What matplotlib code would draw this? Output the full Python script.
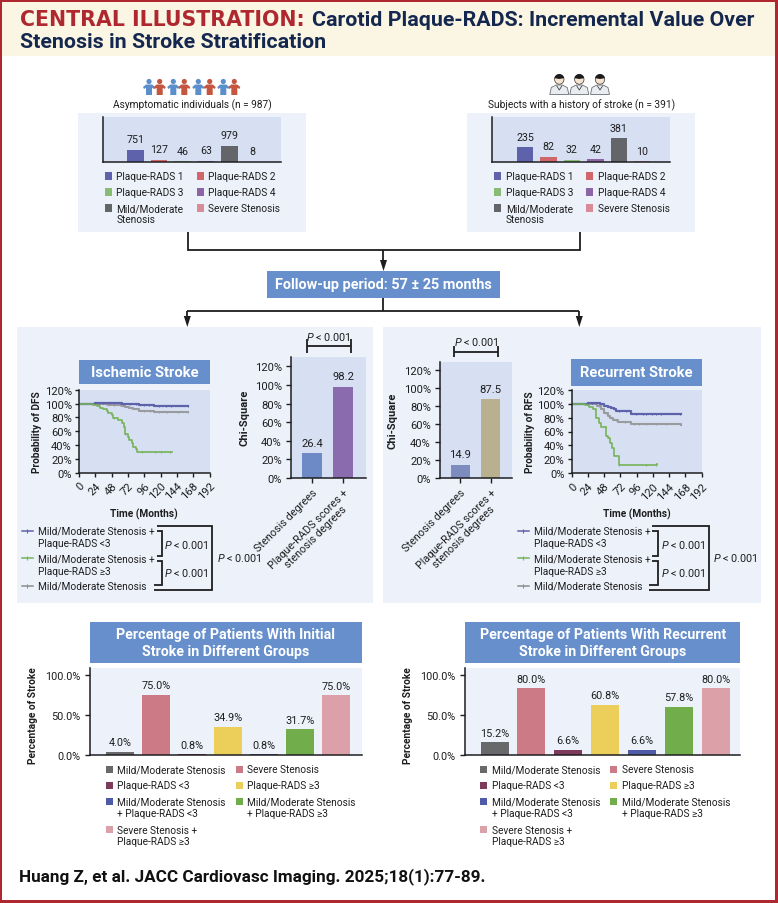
import numpy as np
import matplotlib
matplotlib.use("Agg")
import matplotlib.pyplot as plt
from matplotlib.patches import Rectangle, Circle, Polygon, Wedge

plt.rcParams['font.family'] = ['Roboto', 'DejaVu Sans']
plt.rcParams['mathtext.fontset'] = 'custom'
plt.rcParams['mathtext.it'] = 'Roboto:italic'
plt.rcParams['mathtext.rm'] = 'Roboto'

W, H = 778, 904

# --- data ---
cohort_labels = ['Plaque-RADS 1', 'Plaque-RADS 2', 'Plaque-RADS 3', 'Plaque-RADS 4',
                 'Mild/Moderate\nStenosis', 'Severe Stenosis']
cohort_colors = ['#5D62AB', '#D0666A', '#86BC74', '#8E64A8', '#646568', '#D98C98']
asymptomatic = [751, 127, 46, 63, 979, 8]
history = [235, 82, 32, 42, 381, 10]

months_ticks = [0, 24, 48, 72, 96, 120, 144, 168, 192]
pct_ticks = [0, 20, 40, 60, 80, 100, 120]

dfs_blue_t = [0, 23, 63, 88, 111, 140, 161]
dfs_blue_s = [100, 101, 99.5, 98.5, 97, 96, 96.5]
dfs_gray_t = [0, 24, 43, 63, 68, 73, 80, 88, 110, 161]
dfs_gray_s = [100, 99.5, 98.5, 96.6, 95, 93, 91.5, 90, 88.5, 88.5]
dfs_green_t = [0, 21, 27, 31, 36, 41, 43, 48, 50, 57, 63, 66, 68, 72, 74, 78, 80, 84, 86, 137]
dfs_green_s = [100, 98, 96, 94, 92, 90, 87, 84, 79, 76, 72, 66, 56, 52, 47, 43, 37, 34, 30, 30.5]

rfs_blue_t = [0, 24, 42, 48, 54, 58, 62, 65, 88, 161]
rfs_blue_s = [100, 101, 100, 97, 95.5, 94, 92, 89, 85, 85]
rfs_gray_t = [0, 24, 31, 37, 43, 48, 53, 57, 61, 68, 88, 161]
rfs_gray_s = [100, 100, 99, 96, 92, 87, 82, 79, 76, 73, 71, 70]
rfs_green_t = [0, 19, 25, 31, 36, 40, 43, 51, 54, 57, 60, 62, 70, 126]
rfs_green_s = [100, 98, 95, 92, 80, 72, 66, 54, 50, 44, 36, 25, 12, 13]

dfs_blue_cens = [30, 36, 44, 52, 60, 75, 84, 95, 103, 118, 128, 135, 160]
dfs_gray_cens = [30, 40, 52, 60, 95, 105, 118, 130, 145, 160]
dfs_green_cens = [30, 52, 68, 92, 112, 120, 134]
rfs_blue_cens = [30, 36, 70, 80, 95, 105, 110, 118, 125, 132, 160]
rfs_gray_cens = [40, 50, 66, 78, 92, 100, 110, 125, 140, 160]
rfs_green_cens = [50, 70, 110, 124]

chi_labels = ['Stenosis degrees', 'Plaque-RADS scores +\nstenosis degrees']
chi_ischemic = [26.4, 98.2]
chi_recurrent = [14.9, 87.5]
chi_ischemic_colors = ['#6D8AC6', '#8A6BAD']
chi_recurrent_colors = ['#7E8BBF', '#B9B08F']

group_labels = ['Mild/Moderate Stenosis', 'Severe Stenosis', 'Plaque-RADS <3', 'Plaque-RADS ≥3',
                'Mild/Moderate Stenosis\n+ Plaque-RADS <3', 'Mild/Moderate Stenosis\n+ Plaque-RADS ≥3',
                'Severe Stenosis +\nPlaque-RADS ≥3']
group_colors = ['#68696B', '#CC7A85', '#7D3A5B', '#ECCE5A', '#4F5BA6', '#71AD4A', '#DCA0A8']
initial_heights = [4.0, 75.5, 0.8, 34.9, 0.8, 31.7, 75.0]
initial_text = ['4.0%', '75.0%', '0.8%', '34.9%', '0.8%', '31.7%', '75.0%']
recurrent_heights = [15.4, 83.5, 6.0, 63.0, 6.0, 60.2, 83.6]
recurrent_text = ['15.2%', '80.0%', '6.6%', '60.8%', '6.6%', '57.8%', '80.0%']

RED = '#B0282F'
NAVY = '#14284F'
BLUE_BOX = '#668FCC'
PANEL = '#EDF2FA'
CHART_BG = '#D6E0F2'
INK = '#1E1E20'
FS = 7.3

fig = plt.figure(figsize=(W / 100, H / 100), dpi=100, facecolor='white')
bg = fig.add_axes([0, 0, 1, 1])
bg.set_xlim(0, W)
bg.set_ylim(H, 0)
bg.axis('off')


def add_ax(x0, y0, x1, y1, color=CHART_BG):
    a = fig.add_axes([x0 / W, 1 - y1 / H, (x1 - x0) / W, (y1 - y0) / H])
    a.set_facecolor(color)
    for s in ['top', 'right']:
        a.spines[s].set_visible(False)
    for s in ['left', 'bottom']:
        a.spines[s].set_linewidth(1.1)
        a.spines[s].set_color(INK)
    return a


def box(x0, y0, x1, y1, color, z=1):
    bg.add_patch(Rectangle((x0, y0), x1 - x0, y1 - y0, fc=color, ec='none', zorder=z))


def label(x, y, s, size=FS, ha='left', color=INK, weight='normal', spacing=1.1, **kw):
    bg.text(x, y, s, fontsize=size, ha=ha, va='center', color=color, fontweight=weight,
            linespacing=spacing, zorder=5, **kw)


def path(xs, ys, lw=1.3):
    bg.plot(xs, ys, color=INK, lw=lw, solid_joinstyle='miter', solid_capstyle='butt', zorder=4)


def arrow(x, y0, y1):
    bg.plot([x, x], [y0, y1 - 8], color=INK, lw=1.3, solid_capstyle='butt', zorder=4)
    bg.add_patch(Polygon([(x - 3.5, y1 - 11), (x + 3.5, y1 - 11), (x, y1)], fc=INK, ec='none', zorder=4))


def swatch(x, y, color):
    box(x, y - 3.6, x + 7.2, y + 3.6, color, z=3)


def cohort(x0, x1, ax_x0, ax_x1, bar0, values, top, heading, sw1, sw2):
    box(x0, 114, x1, 233, PANEL)
    label((x0 + x1) / 2 + 0.5, 105.5, heading, ha='center')
    a = add_ax(ax_x0, 118, ax_x1, 163)
    step = 23.45
    a.bar(np.arange(6), values, width=0.7, color=cohort_colors)
    a.set_xlim((ax_x0 - bar0) / step, (ax_x1 - bar0) / step)
    a.set_ylim(0, top)
    a.set_xticks([])
    a.set_yticks([])
    for i, v in enumerate(values):
        a.annotate(str(v), (i, v), xytext=(0, 4), textcoords='offset points', ha='center',
                   va='bottom', fontsize=FS + 0.4, color=INK)
    rows = [177, 177, 193, 193, 209, 209]
    for i, lab in enumerate(cohort_labels):
        sx = sw1 if i % 2 == 0 else sw2
        swatch(sx, rows[i], cohort_colors[i])
        if '\n' in lab:
            label(sx + 11.7, rows[i] + 6, lab)
        else:
            label(sx + 11.7, rows[i], lab)


def km(a, curves, ylab):
    for t, s, cens, c, lw in curves:
        a.step(t, s, where='post', color=c, lw=lw)
        idx = np.searchsorted(t, cens, side='right') - 1
        a.plot(cens, np.array(s)[idx], ls='none', marker='|', ms=2, mew=0.7, color=c)
    a.set_xlim(0, 192)
    a.set_ylim(0, 120)
    a.set_xticks(months_ticks)
    a.set_xticklabels(months_ticks, rotation=45, ha='right', rotation_mode='anchor', fontsize=FS + 0.8)
    a.set_yticks(pct_ticks)
    a.set_yticklabels([f'{p}%' for p in pct_ticks], fontsize=FS + 0.8)
    a.tick_params(length=3.2, width=1, color=INK, labelcolor=INK, pad=2)
    a.set_ylabel(ylab, fontsize=FS, fontweight='bold', color=INK, labelpad=2)
    a.set_xlabel('Time (Months)', fontsize=FS, fontweight='bold', color=INK, labelpad=5)


def km_legend(line_x, text_x, ib0, ib1, ob0, ob1, px, ox):
    rows = [531.7, 559.3, 587]
    colors = ['#5D62AB', '#76B35A', '#8A8B8E']
    for y, c in zip(rows, colors):
        bg.plot([line_x, line_x + 11], [y, y], color=c, lw=1.1, zorder=4)
        bg.plot([line_x + 5.5], [y], marker='|', ms=2.6, mew=0.8, color=c, zorder=4)
    label(text_x, 531.7, 'Mild/Moderate Stenosis +')
    label(text_x, 543.7, 'Plaque-RADS <3')
    label(text_x, 559.3, 'Mild/Moderate Stenosis +')
    label(text_x, 571.7, 'Plaque-RADS ≥3')
    label(text_x, 587, 'Mild/Moderate Stenosis')
    path([ib0, ib1, ib1, ib0], [532.3, 532.3, 557.3, 557.3])
    path([ib0, ib1, ib1, ib0 - 2.5], [562, 562, 586, 586])
    path([ob0, ob1, ob1, ob0 - 2.5], [526.7, 526.7, 591, 591])
    label(px, 545, r'$\mathit{P}$ < 0.001', ha='center', size=FS + 0.5)
    label(px, 573.3, r'$\mathit{P}$ < 0.001', ha='center', size=FS + 0.5)
    label(ox, 558, r'$\mathit{P}$ < 0.001', size=FS + 0.5)


def chi(rect, centers, width, vals, colors, top):
    x0, y0, x1, y1 = rect
    a = add_ax(x0, y0, x1, y1)
    a.set_xlim(x0, x1)
    a.set_ylim(0, top)
    a.bar(centers, vals, width=width, color=colors)
    a.set_xticks(centers)
    a.set_xticklabels(chi_labels, rotation=45, ha='right', rotation_mode='anchor',
                      fontsize=FS + 0.5, ma='center', linespacing=1.05)
    a.set_yticks(pct_ticks)
    a.set_yticklabels([f'{p}%' for p in pct_ticks], fontsize=FS + 0.8)
    a.tick_params(length=3.6, width=1, color=INK, labelcolor=INK, pad=3)
    for c, v in zip(centers, vals):
        a.annotate(f'{v}', (c, v), xytext=(0, 4), textcoords='offset points', ha='center',
                   va='bottom', fontsize=FS + 0.8, color=INK)
    return a


def pct_chart(x0, x1, centers, width, heights, texts, title, ylab_x, sw1, sw2):
    box(x0, 622.7, x1, 664.3, BLUE_BOX)
    label((x0 + x1) / 2, 643.5, title, size=10.2, ha='center', color='white', weight='bold', spacing=1.22)
    a = add_ax(x0, 669.3, x1, 755.7, color=PANEL)
    a.set_xlim(x0, x1)
    a.set_ylim(0, 108.5)
    a.bar(centers, heights, width=width, color=group_colors)
    a.set_xticks([])
    a.set_yticks([0, 50, 100])
    a.set_yticklabels(['0.0%', '50.0%', '100.0%'], fontsize=FS + 0.5)
    a.tick_params(length=3.6, width=1, color=INK, labelcolor=INK, pad=3)
    for c, h, t in zip(centers, heights, texts):
        a.annotate(t, (c, h), xytext=(0, 3.2), textcoords='offset points', ha='center',
                   va='bottom', fontsize=FS + 0.5, color=INK)
    label(ylab_x, 716, 'Percentage of Stroke', ha='center', weight='bold', rotation=90, size=FS)
    rows = [770.3, 770.3, 786.3, 786.3, 802.3, 802.3, 830.3]
    for i, lab in enumerate(group_labels):
        sx = sw1 if i % 2 == 0 else sw2
        swatch(sx, rows[i], group_colors[i])
        off = 6 if '\n' in lab else 0
        label(sx + 11.6, rows[i] + off, lab)


# page frame and header
box(0, 2, W, 57, '#FBF5E3', z=0)
for r in [(0, 0, W, 2.5), (0, 0, 2.5, H), (W - 2.5, 0, W, H), (0, H - 3, W, H)]:
    box(r[0], r[1], r[2], r[3], RED, z=6)
label(20, 20, 'CENTRAL ILLUSTRATION:', size=14.8, color=RED, weight='bold', family=['DejaVu Sans'])
label(312.5, 20, 'Carotid Plaque-RADS: Incremental Value Over', size=15.4, color=NAVY, weight='bold')
label(20, 42, 'Stenosis in Stroke Stratification', size=15.4, color=NAVY, weight='bold')

# icons above the two cohorts
people_x = [149, 159.7, 173.3, 184.3, 198.3, 209.7, 223.3, 234.3]
for i, cx in enumerate(people_x):
    c = '#5B8FCB' if i % 2 == 0 else '#C4553F'
    bg.add_patch(Circle((cx, 82.5), 2.6, fc=c, ec='none', zorder=3))
    bg.add_patch(Polygon([(cx - 6, 88), (cx - 3, 85.5), (cx + 3, 85.5), (cx + 6, 88), (cx + 5, 90),
                          (cx + 3, 88.8), (cx + 3, 96), (cx - 3, 96), (cx - 3, 88.8), (cx - 5, 90)],
                         fc=c, ec='none', zorder=3))
for cx in [559.3, 579.3, 600]:
    bg.add_patch(Polygon([(cx - 9.5, 95.5), (cx - 8, 88.5), (cx - 3, 86), (cx + 3, 86), (cx + 8, 88.5), (cx + 9.5, 95.5)],
                         fc='#E9EDF1', ec='#6B7074', lw=0.6, zorder=3))
    bg.plot([cx - 2.5, cx, cx + 2.5], [87, 91, 87], color='#444444', lw=0.6, zorder=4)
    bg.add_patch(Circle((cx, 80.5), 4.7, fc='#F6E3CF', ec='#333333', lw=0.5, zorder=3))
    bg.add_patch(Wedge((cx, 80), 5, 190, 350, fc='#1C1C1C', ec='none', zorder=4))

cohort(78, 306, 103, 281, 135.6, asymptomatic, 2750, 'Asymptomatic individuals (n = 987)', 104.7, 196.7)
cohort(467, 695, 492.3, 670, 525, history, 725, 'Subjects with a history of stroke (n = 391)', 494, 586)

# flow connectors
path([188, 188, 580, 580], [233, 251, 251, 233])
arrow(383.5, 251, 272)
box(267, 272, 500, 299, BLUE_BOX)
label(383.5, 285.5, 'Follow-up period: 57 ± 25 months', size=10.4, ha='center', color='white', weight='bold')
path([383.5, 383.5], [299, 312])
path([187.3, 579.3], [311.7, 311.7])
arrow(187.3, 311.7, 328)
arrow(579.3, 311.7, 328)

box(17, 328.3, 373, 604, PANEL)
box(383, 328.3, 761, 604, PANEL)

# ischemic stroke side
box(79, 361, 210, 385, BLUE_BOX)
label(144.5, 373, 'Ischemic Stroke', size=10.6, ha='center', color='white', weight='bold')
km(add_ax(79, 390.7, 209.5, 474), [
    (dfs_gray_t, dfs_gray_s, dfs_gray_cens, '#9A9B9E', 1.5),
    (dfs_blue_t, dfs_blue_s, dfs_blue_cens, '#5D62AB', 1.6),
    (dfs_green_t, dfs_green_s, dfs_green_cens, '#76B35A', 1.2)], 'Probability of DFS')
km_legend(22, 37.7, 156.7, 161.7, 156.7, 212, 186.7, 216.7)
chi_a = chi((291, 358, 366, 479), [312, 343.3], 20, chi_ischemic, chi_ischemic_colors, 130)
label(245, 418, 'Chi-Square', ha='center', weight='bold', rotation=90, size=FS + 0.7)
path([306.7, 350.7], [347.3, 347.3])
path([306.7, 306.7], [340, 354])
path([350.7, 350.7], [340, 354])
label(328.7, 337, r'$\mathit{P}$ < 0.001', ha='center', size=FS + 0.5)

# recurrent stroke side
box(571, 360, 702, 387, BLUE_BOX)
label(636.5, 373, 'Recurrent Stroke', size=10.6, ha='center', color='white', weight='bold')
km(add_ax(571.7, 390.7, 701.7, 474.3), [
    (rfs_gray_t, rfs_gray_s, rfs_gray_cens, '#9A9B9E', 1.5),
    (rfs_blue_t, rfs_blue_s, rfs_blue_cens, '#5D62AB', 1.6),
    (rfs_green_t, rfs_green_s, rfs_green_cens, '#76B35A', 1.2)], 'Probability of RFS')
km_legend(518, 534.3, 651.7, 658.3, 651.7, 709, 683, 713)
chi_b = chi((440, 362.7, 511.7, 479), [460.3, 490.7], 19.3, chi_recurrent, chi_recurrent_colors, 129.6)
label(393, 421, 'Chi-Square', ha='center', weight='bold', rotation=90, size=FS + 0.7)
path([454, 498], [352.7, 352.7])
path([454, 454], [347, 358])
path([498, 498], [347, 358])
label(476, 341.7, r'$\mathit{P}$ < 0.001', ha='center', size=FS + 0.5)

# percentage charts
pct_chart(90, 362, [120, 156, 192, 228, 264, 300.3, 336.3], 28, initial_heights, initial_text,
          'Percentage of Patients With Initial\nStroke in Different Groups', 33, 105.7, 235.7)
pct_chart(465, 740.3, [494.7, 531.3, 568.3, 605, 642, 678.7, 715.7], 28.3, recurrent_heights, recurrent_text,
          'Percentage of Patients With Recurrent\nStroke in Different Groups', 407.7, 480, 610)

label(19, 877, 'Huang Z, et al. JACC Cardiovasc Imaging. 2025;18(1):77-89.', size=12.3, color='#111111', weight='bold')

fig.savefig('out.png', dpi=100, facecolor='white')
